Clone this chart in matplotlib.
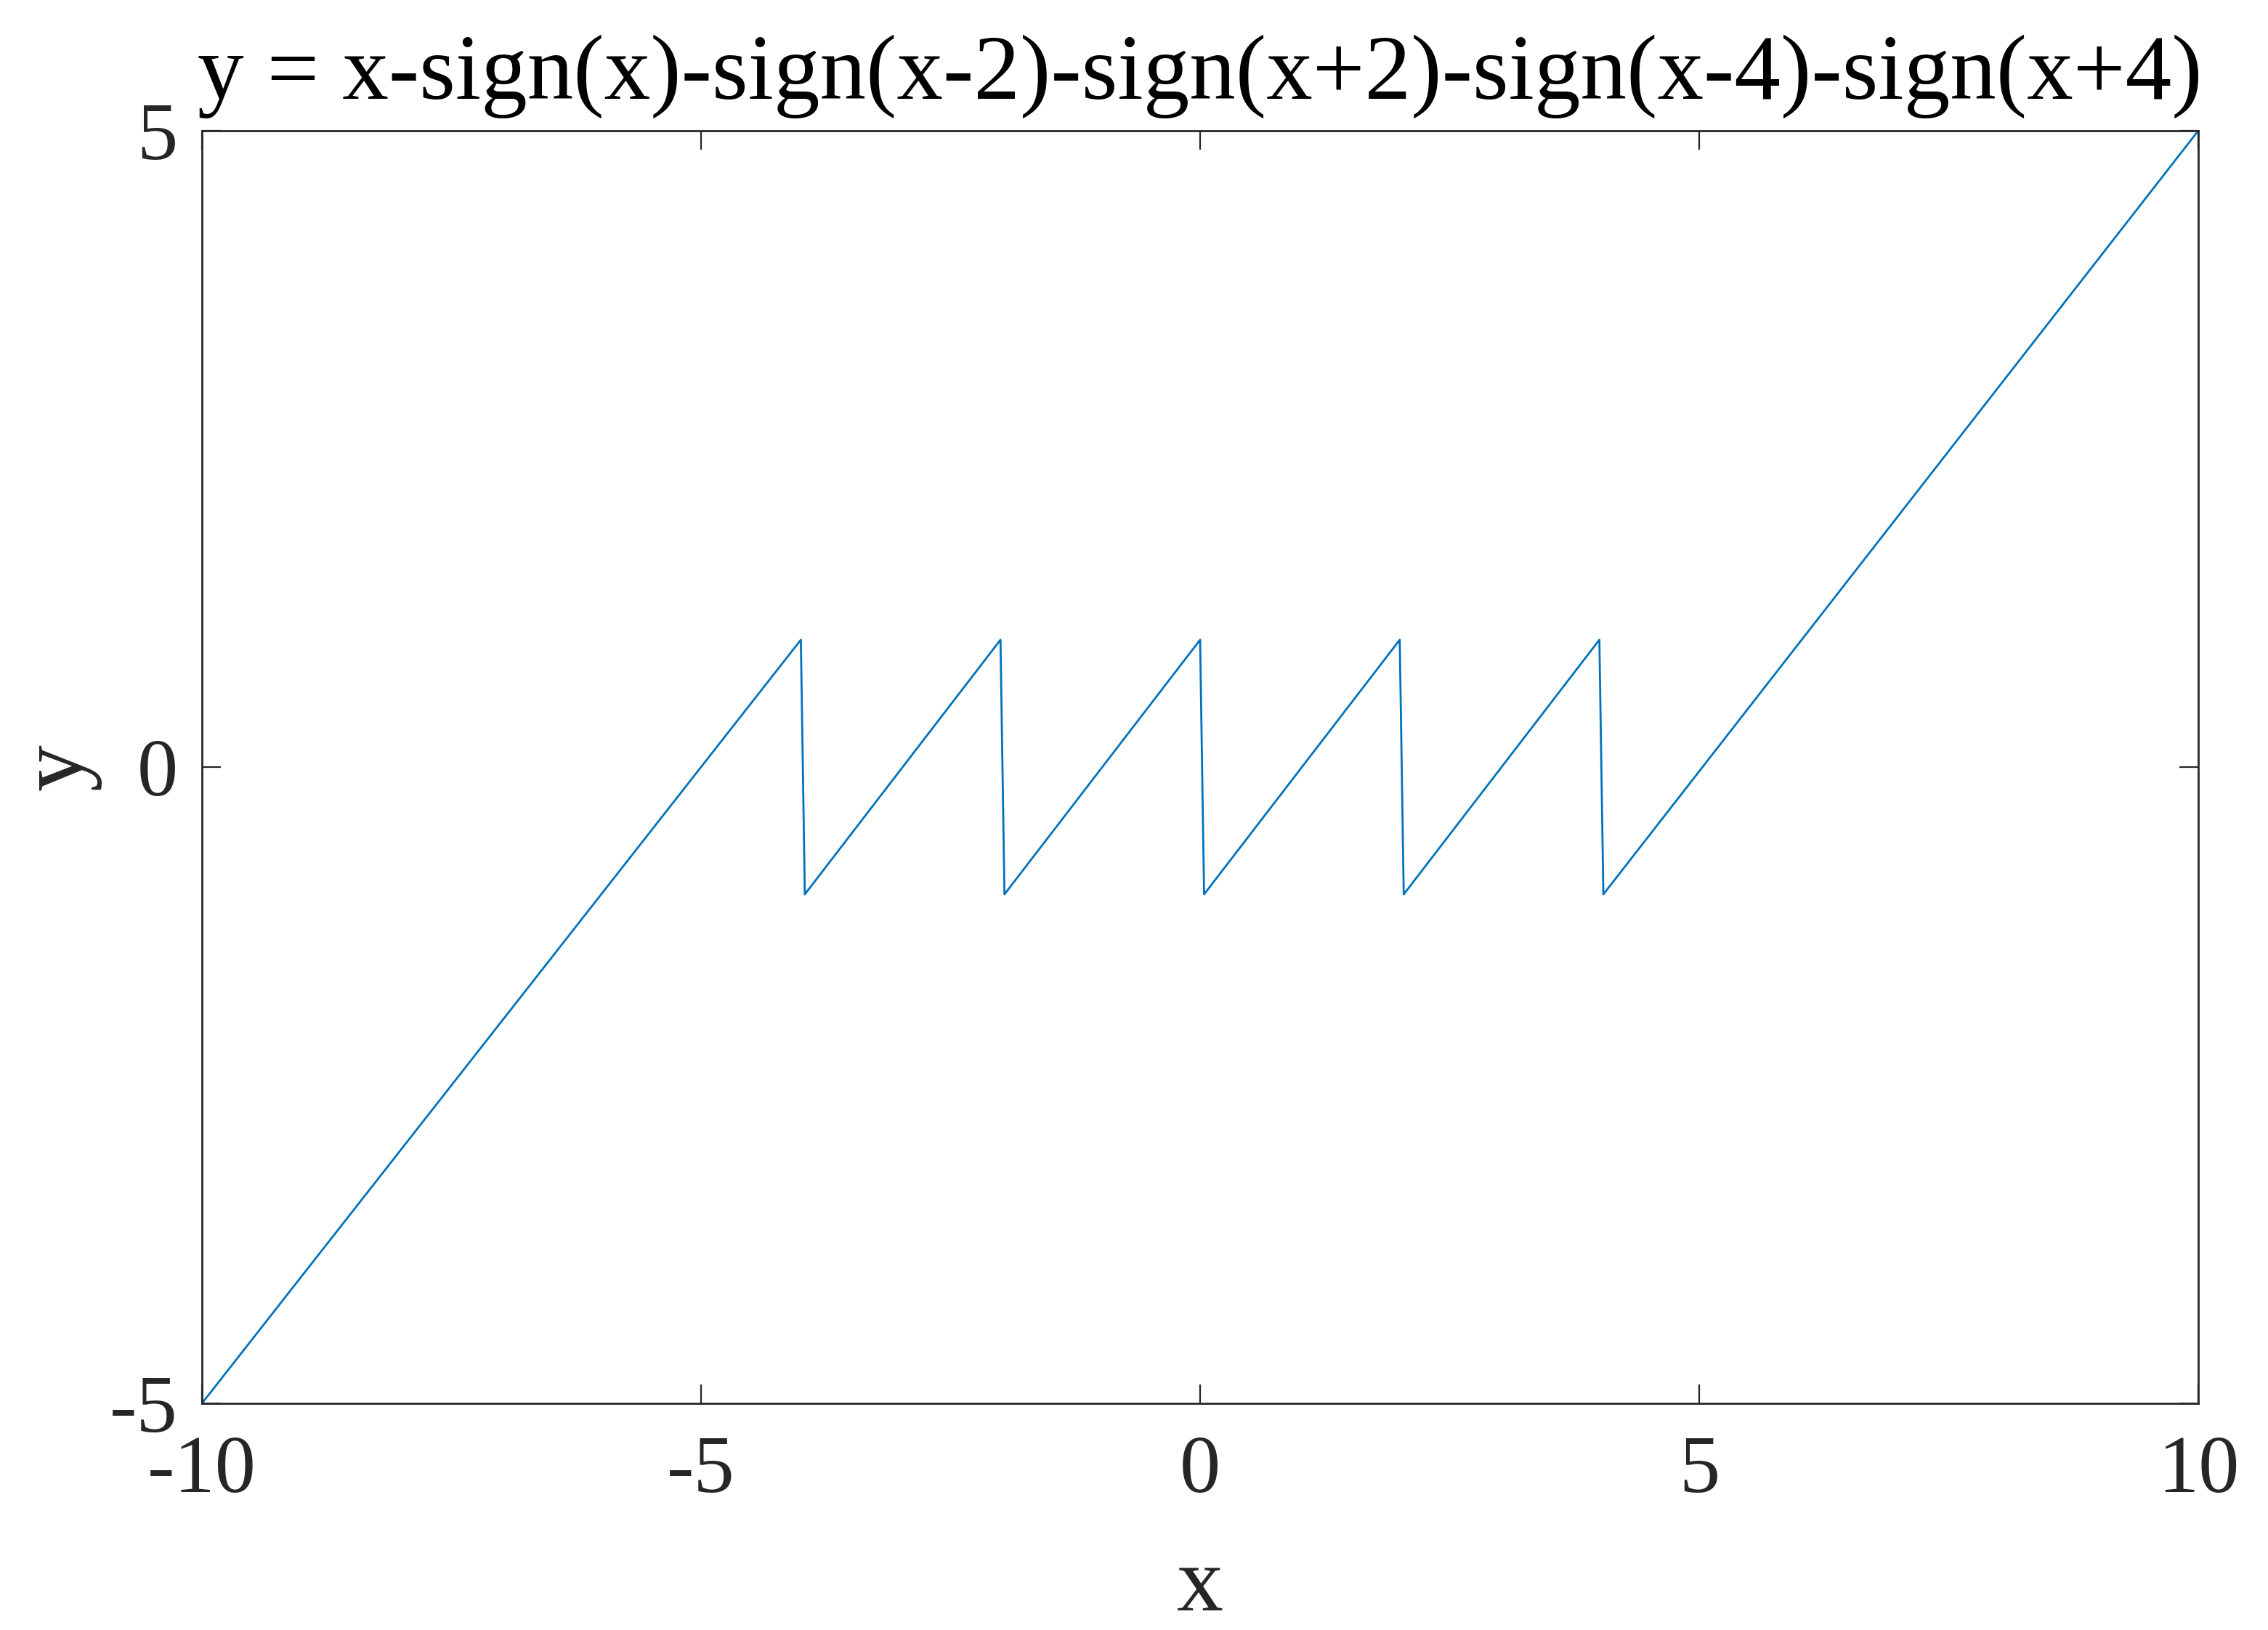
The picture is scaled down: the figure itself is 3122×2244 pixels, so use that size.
import matplotlib
matplotlib.use('Agg')
import matplotlib.pyplot as plt

# vertices of the sawtooth
x_pts = [-10, -4, -3.96, -2, -1.96, 0, 0.04, 2, 2.04, 4, 4.04, 10]
y_pts = [-5, 1, -1, 1, -1, 1, -1, 1, -1, 1, -1, 5]
x_ticks = [-10, -5, 0, 5, 10]
y_ticks = [-5, 0, 5]
title_text = 'y = x-sign(x)-sign(x-2)-sign(x+2)-sign(x-4)-sign(x+4)'

plt.rcParams['font.family'] = ['Liberation Serif', 'DejaVu Serif']
plt.rcParams['axes.unicode_minus'] = False
gray = '#262626'

fig = plt.figure(figsize=(15.61, 11.22), dpi=200)
ax = fig.add_axes([278 / 3122, 1 - 1932 / 2244, (3026 - 278) / 3122, (1932 - 180) / 2244])

ax.plot(x_pts, y_pts, color='#0072BD', lw=1.0)

ax.set_xlim(-10, 10)
ax.set_ylim(-5, 5)
ax.set_xticks(x_ticks)
ax.set_yticks(y_ticks)
ax.tick_params(direction='in', length=9.5, width=0.8, colors=gray, labelsize=40.5,
               top=True, right=True)
ax.tick_params(axis='x', pad=16)
ax.tick_params(axis='y', pad=12)
for s in ax.spines.values():
    s.set_color(gray)
    s.set_linewidth(1.0)

ax.set_title(title_text, fontsize=45.8, color='black', pad=16)
ax.set_xlabel('x', fontsize=46, color=gray, labelpad=18)
ax.set_ylabel('y', fontsize=46, color=gray, labelpad=4)

fig.savefig('out.png', dpi=200)
